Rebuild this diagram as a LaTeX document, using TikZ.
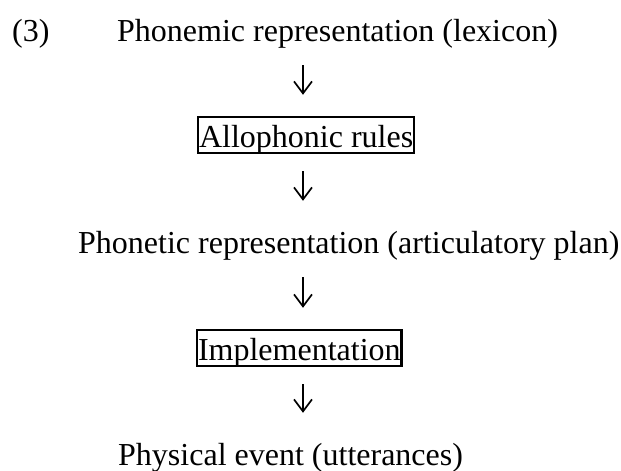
\documentclass[tikz,border=0pt]{standalone}
\usepackage{fontspec}
\setmainfont{Liberation Serif}
\usetikzlibrary{arrows.meta}
\begin{document}
\begin{tikzpicture}[x=1pt, y=-1pt]
% Derivation chart, all sizes in pixels of the page
\def\levelsz{32pt}
\providecommand{\phonArrowColor}{black}
\providecommand{\phonArrowWidth}{1.7pt}
\providecommand{\phonBoxLineWidth}{2.4pt}
\tikzset{
  level/.style={anchor=base west, inner sep=0pt, text height=31pt, text depth=7pt,
    font=\fontsize{\levelsz}{38pt}\selectfont},
  rulebox/.style={level, draw, line width=\phonBoxLineWidth, inner xsep=0.8pt, inner ysep=1pt,
    text height=29pt, text depth=5pt},
  flow/.style={draw=\phonArrowColor, line width=\phonArrowWidth,
    -{Straight Barb[length=12pt, width=18pt]}, shorten <=17pt, shorten >=21pt}
}
% Page frame
\useasboundingbox (0,0) rectangle (621,471);
% Levels and rule boxes
\node[level] (exno) at (12,41) {(3)};
\node[level] (phonemic) at (117,41) {Phonemic representation (lexicon)};
\node[rulebox] (allo) at (197,147) {Allophonic rules};
\node[level] (phonetic) at (78,253) {Phonetic representation (articulatory plan)};
\node[rulebox] (impl) at (196,360) {Implementation};
\node[level] (physical) at (118,465) {Physical event (utterances)};
% Arrows down the middle
\coordinate (axis) at (303,0);
\draw[flow] (phonemic.south -| axis) -- (allo.north -| axis);
\draw[flow] (allo.south -| axis) -- (phonetic.north -| axis);
\draw[flow] (phonetic.south -| axis) -- (impl.north -| axis);
\draw[flow] (impl.south -| axis) -- (physical.north -| axis);
\end{tikzpicture}
\end{document}
